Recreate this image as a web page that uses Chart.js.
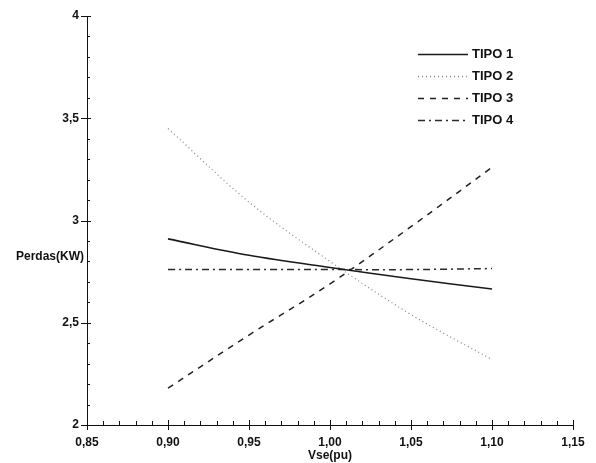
<!DOCTYPE html>
<html>
<head>
<meta charset="utf-8">
<script src="https://cdn.jsdelivr.net/npm/chart.js@4"></script>
<style>
  html, body { margin: 0; padding: 0; background: #fff; }
  #wrap { width: 596px; height: 463px; }
</style>
</head>
<body>
<div id="wrap"><canvas id="chart"></canvas></div>
<script>
// --- data ---
const vse = [0.90, 0.95, 1.00, 1.05, 1.10];
const tipo1 = [2.91, 2.83, 2.77, 2.715, 2.665];
const tipo2 = [3.45, 3.09, 2.80, 2.54, 2.32];
const tipo3 = [2.18, 2.44, 2.69, 2.97, 3.26];
const tipo4 = [2.76, 2.76, 2.76, 2.76, 2.765];
const seriesNames = ['TIPO 1', 'TIPO 2', 'TIPO 3', 'TIPO 4'];

const xTicks = [0.85, 0.90, 0.95, 1.00, 1.05, 1.10, 1.15];
const xTickLabels = ['0,85', '0,90', '0,95', '1,00', '1,05', '1,10', '1,15'];
const yTicks = [2, 2.5, 3, 3.5, 4];
const yTickLabels = ['2', '2,5', '3', '3,5', '4'];

const FONT = 'Liberation Sans, Arial, sans-serif';

function findLabel(value, ticks, labels) {
    const i = ticks.findIndex(t => Math.abs(t - value) < 1e-6);
    return i >= 0 ? labels[i] : '';
}

const pts = arr => arr.map((y, i) => ({ x: vse[i], y: y }));

// axis tick marks, free y title and legend
const decor = {
    id: 'decor',
    afterDraw(chart) {
        const ctx = chart.ctx;
        const xs = chart.scales.x, ys = chart.scales.y;
        const area = chart.chartArea;
        ctx.save();
        ctx.strokeStyle = '#111';
        ctx.lineWidth = 1;
        ctx.beginPath();
        xs.ticks.forEach(t => {
            const px = Math.round(xs.getPixelForValue(t.value)) + 0.5;
            if (findLabel(t.value, xTicks, xTickLabels)) {
                ctx.moveTo(px, area.bottom - 5); ctx.lineTo(px, area.bottom + 5);
            } else {
                ctx.moveTo(px, area.bottom - 4); ctx.lineTo(px, area.bottom);
            }
        });
        ys.ticks.forEach(t => {
            const py = Math.round(ys.getPixelForValue(t.value)) + 0.5;
            if (findLabel(t.value, yTicks, yTickLabels)) {
                ctx.moveTo(area.left - 6, py); ctx.lineTo(area.left + 4, py);
            } else {
                ctx.moveTo(area.left, py); ctx.lineTo(area.left + 3, py);
            }
        });
        ctx.stroke();

        // y axis title, horizontal
        ctx.fillStyle = '#111';
        ctx.font = 'bold 12px ' + FONT;
        ctx.textAlign = 'right';
        ctx.textBaseline = 'middle';
        ctx.fillText('Perdas(KW)', area.left - 3, 257);

        // legend
        chart.data.datasets.forEach((ds, i) => {
            const y = 54 + i * 22;
            ctx.save();
            ctx.strokeStyle = ds.borderColor;
            ctx.lineWidth = ds.borderWidth;
            ctx.setLineDash(ds.borderDash || []);
            ctx.beginPath();
            ctx.moveTo(418, y + 0.5);
            ctx.lineTo(468, y + 0.5);
            ctx.stroke();
            ctx.restore();
            ctx.fillStyle = '#111';
            ctx.textAlign = 'left';
            ctx.font = 'bold 13px ' + FONT;
            ctx.fillText(ds.label, 472, y);
        });
        ctx.restore();
    }
};

new Chart(document.getElementById('chart'), {
    type: 'line',
    data: {
        datasets: [
            { label: seriesNames[0], data: pts(tipo1), borderColor: '#1a1a1a', borderWidth: 1.6, borderDash: [] },
            { label: seriesNames[1], data: pts(tipo2), borderColor: '#8a8a8a', borderWidth: 1.3, borderDash: [1, 3] },
            { label: seriesNames[2], data: pts(tipo3), borderColor: '#222', borderWidth: 1.5, borderDash: [6, 6] },
            { label: seriesNames[3], data: pts(tipo4), borderColor: '#2a2a2a', borderWidth: 1.5, borderDash: [7, 4, 2, 4] }
        ]
    },
    options: {
        responsive: true,
        maintainAspectRatio: false,
        animation: false,
        layout: { padding: { top: 16, right: 23, left: 0, bottom: 0 } },
        elements: {
            point: { radius: 0 },
            line: { tension: 0.35, fill: false }
        },
        scales: {
            x: {
                type: 'linear',
                min: 0.85,
                max: 1.15,
                grid: { display: false, drawTicks: false },
                border: { display: true, color: '#111', width: 1 },
                ticks: {
                    stepSize: 0.01,
                    autoSkip: false,
                    maxRotation: 0,
                    padding: 10,
                    color: '#111',
                    font: { family: FONT, size: 12, weight: 'bold' },
                    callback: v => findLabel(v, xTicks, xTickLabels)
                },
                title: {
                    display: true,
                    text: 'Vse(pu)',
                    color: '#111',
                    padding: 0,
                    font: { family: FONT, size: 12, weight: 'bold' }
                },
                afterFit: s => { s.height = 38; }
            },
            y: {
                min: 2,
                max: 4,
                grid: { display: false, drawTicks: false },
                border: { display: true, color: '#111', width: 1 },
                ticks: {
                    stepSize: 0.1,
                    autoSkip: false,
                    padding: 8,
                    color: '#111',
                    font: { family: FONT, size: 12, weight: 'bold' },
                    callback: v => findLabel(v, yTicks, yTickLabels)
                },
                afterFit: s => { s.width = 87; }
            }
        },
        plugins: {
            legend: { display: false },
            tooltip: { enabled: false }
        }
    },
    plugins: [decor]
});
</script>
</body>
</html>
